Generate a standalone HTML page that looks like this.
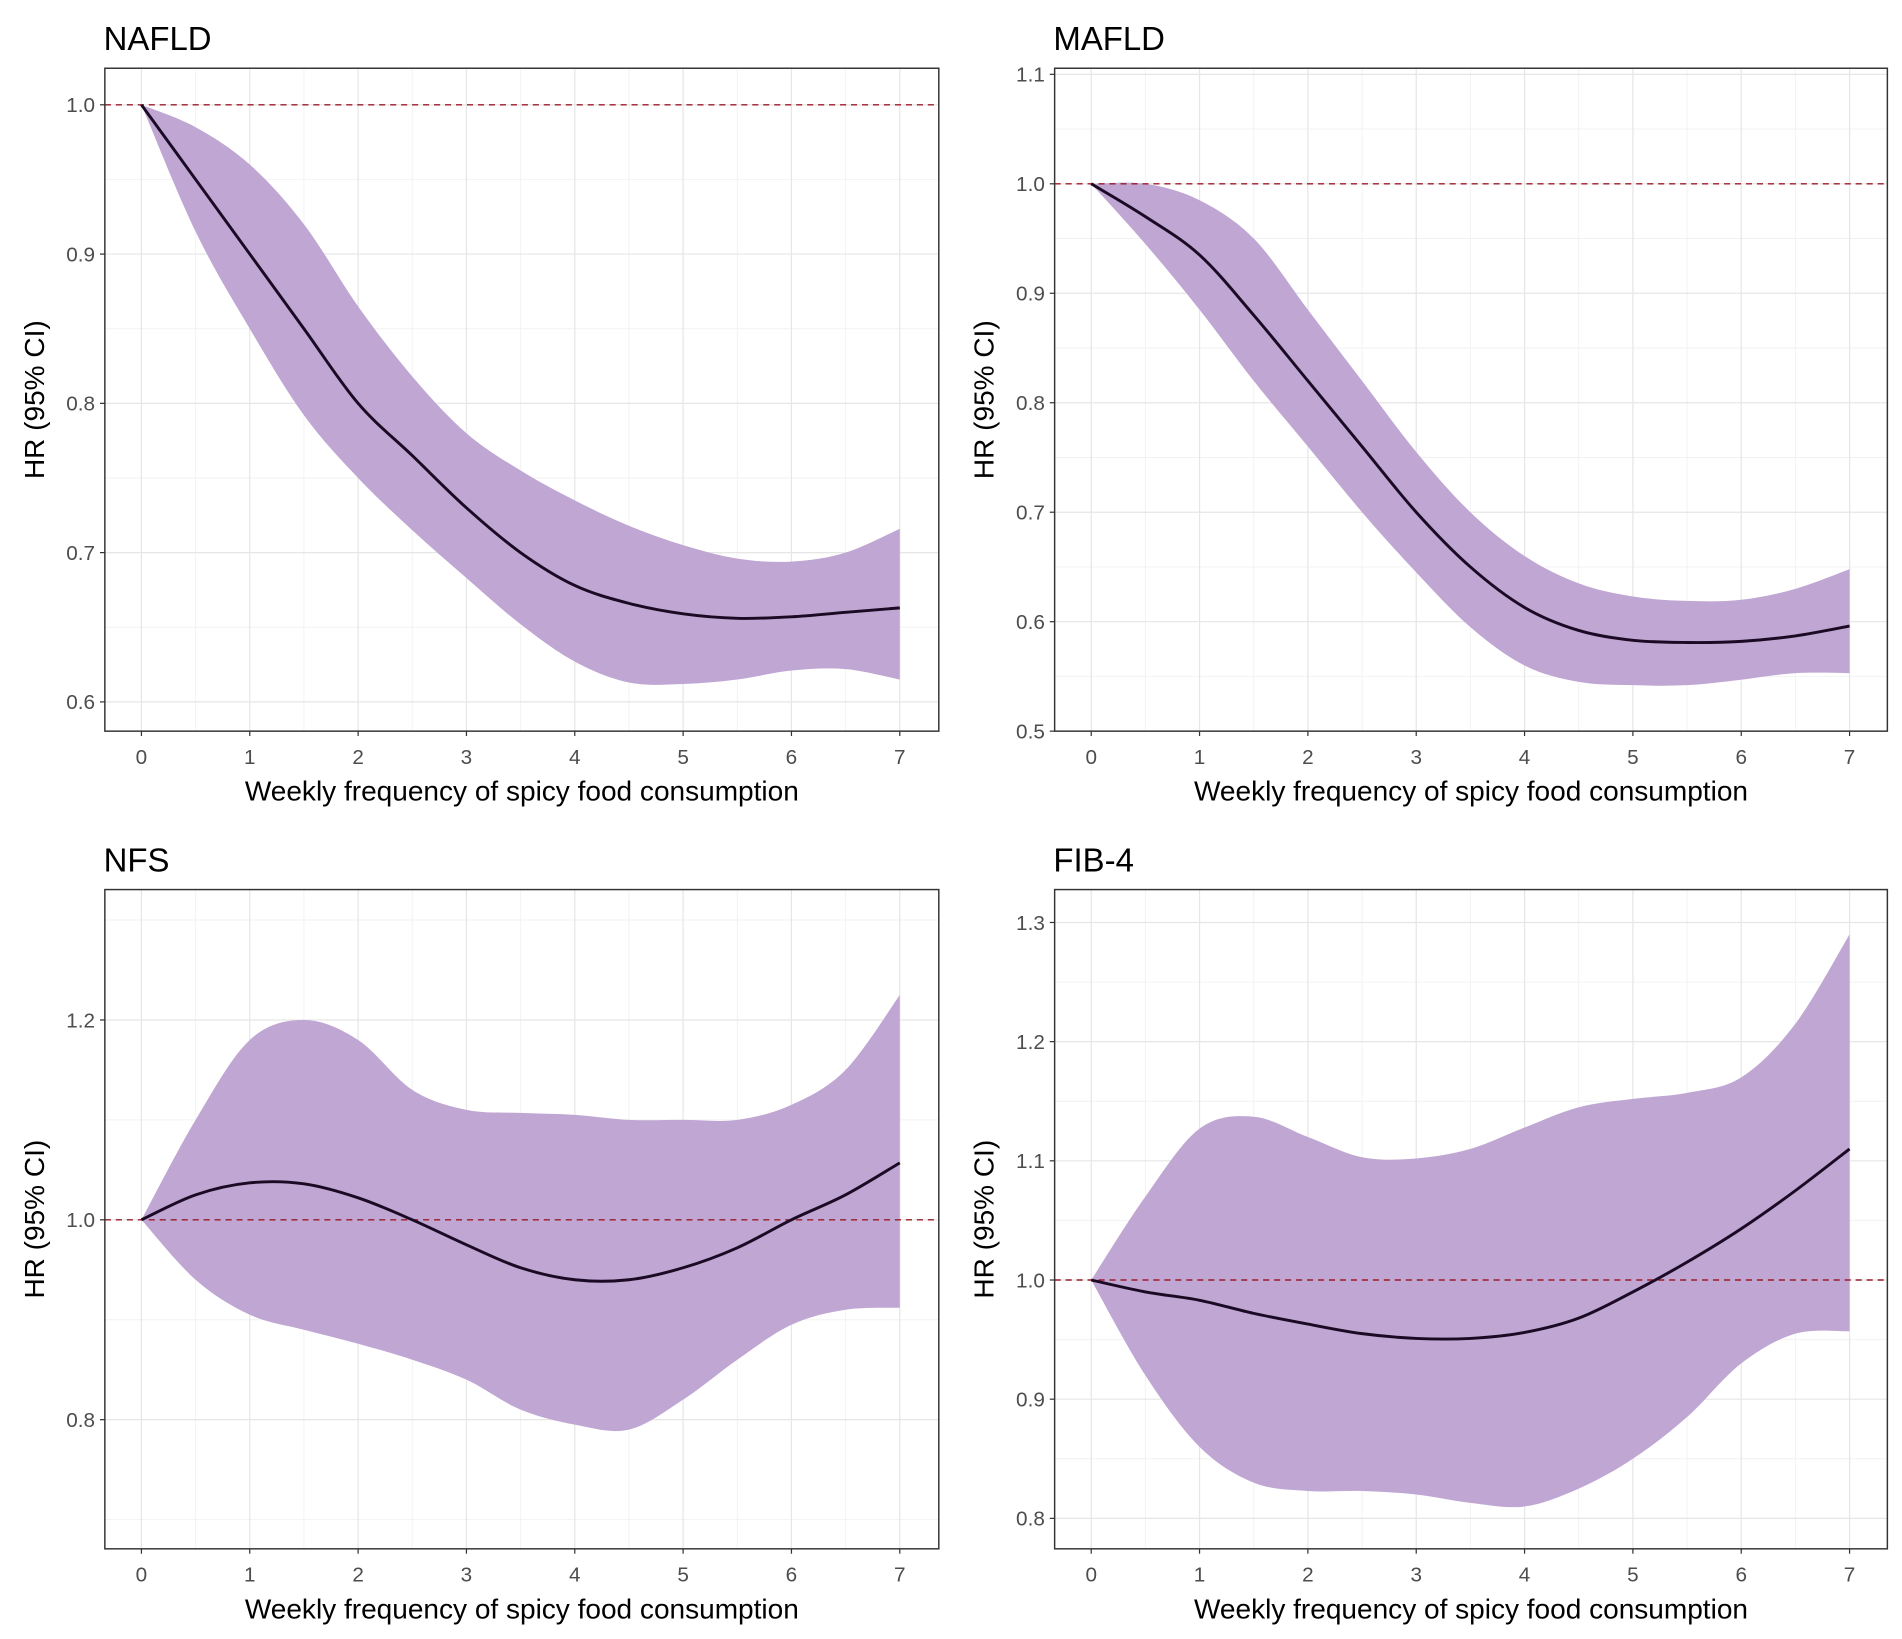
<!DOCTYPE html>
<html><head><meta charset="utf-8"><style>
html,body{margin:0;padding:0;background:#fff;}
svg{display:block;font-family:"Liberation Sans",sans-serif;}
</style></head><body>
<svg id="fig" width="1902" height="1639" viewBox="0 0 1560 1345" preserveAspectRatio="none" xmlns="http://www.w3.org/2000/svg"></svg>
<script>
const xVals = [0,0.5,1,1.5,2,2.5,3,3.5,4,4.5,5,5.5,6,6.5,7];
const xTicks = [0,1,2,3,4,5,6,7];
const naEst = [1.0,0.95,0.90,0.85,0.80,0.765,0.73,0.70,0.678,0.666,0.659,0.656,0.657,0.66,0.663];
const naUp  = [1.0,0.985,0.96,0.92,0.865,0.818,0.78,0.755,0.735,0.718,0.705,0.696,0.694,0.70,0.716];
const naLo  = [1.0,0.915,0.85,0.792,0.75,0.715,0.683,0.652,0.627,0.613,0.612,0.615,0.621,0.622,0.615];
const maEst = [1.0,0.97,0.935,0.88,0.82,0.76,0.70,0.65,0.613,0.592,0.583,0.581,0.582,0.587,0.596];
const maUp  = [1.0,1.0,0.985,0.95,0.885,0.82,0.755,0.70,0.66,0.635,0.623,0.619,0.62,0.63,0.648];
const maLo  = [1.0,0.945,0.885,0.82,0.76,0.70,0.645,0.595,0.56,0.545,0.542,0.542,0.547,0.553,0.553];
const nfEst = [1.0,1.025,1.037,1.036,1.022,1.0,0.975,0.952,0.94,0.94,0.952,0.972,1.0,1.025,1.057];
const nfUp  = [1.0,1.10,1.18,1.20,1.18,1.13,1.11,1.107,1.105,1.10,1.10,1.10,1.115,1.15,1.225];
const nfLo  = [1.0,0.94,0.905,0.89,0.876,0.86,0.84,0.81,0.795,0.79,0.82,0.86,0.895,0.91,0.912];
const fbEst = [1.0,0.99,0.983,0.972,0.963,0.955,0.951,0.951,0.956,0.968,0.99,1.015,1.043,1.075,1.11];
const fbUp  = [1.0,1.07,1.127,1.137,1.12,1.103,1.102,1.11,1.128,1.145,1.152,1.157,1.17,1.215,1.29];
const fbLo  = [1.0,0.92,0.86,0.83,0.823,0.823,0.82,0.813,0.81,0.825,0.85,0.885,0.93,0.955,0.957];
const naTicks = [0.6,0.7,0.8,0.9,1.0];
const maTicks = [0.5,0.6,0.7,0.8,0.9,1.0,1.1];
const nfTicks = [0.8,1.0,1.2];
const fbTicks = [0.8,0.9,1.0,1.1,1.2,1.3];

const NS="http://www.w3.org/2000/svg";
const svg=document.getElementById('fig');
function mk(tag,attrs,parent){const e=document.createElementNS(NS,tag);for(const k in attrs)e.setAttribute(k,attrs[k]);(parent||svg).appendChild(e);return e;}
function smooth(pts){let d=`M${pts[0][0]},${pts[0][1]}`;for(let i=0;i<pts.length-1;i++){const p0=pts[Math.max(i-1,0)],p1=pts[i],p2=pts[i+1],p3=pts[Math.min(i+2,pts.length-1)];const c1=[p1[0]+(p2[0]-p0[0])/6,p1[1]+(p2[1]-p0[1])/6],c2=[p2[0]-(p3[0]-p1[0])/6,p2[1]-(p3[1]-p1[1])/6];d+=` C${c1[0]},${c1[1]} ${c2[0]},${c2[1]} ${p2[0]},${p2[1]}`;}return d;}

function panel(cfg){
  const g=mk('g',{});
  
  
  const {L,R,T,B,x0px,x7px,yA,yApx,yB,yBpx}=cfg;
  const sx=v=>x0px+(x7px-x0px)*v/7;
  const sy=v=>yApx+(yBpx-yApx)*(v-yA)/(yB-yA);
  for(let v=-0.5;v<=7.5;v+=1){const x=sx(v);if(x>L&&x<R){const l=mk('line',{x1:x,x2:x,y1:T,y2:B,stroke:'#f2f2f2','stroke-width':0.8},g);}}
  const step=cfg.ticks[1]-cfg.ticks[0];
  for(let k=-3;k<30;k++){const v=cfg.ticks[0]+step*(k-0.5);const y=sy(v);if(y>T&&y<B){const l=mk('line',{x1:L,x2:R,y1:y,y2:y,stroke:'#f2f2f2','stroke-width':0.8},g);}}
  xTicks.forEach(t=>{const x=sx(t);const l=mk('line',{x1:x,x2:x,y1:T,y2:B,stroke:'#e6e6e6','stroke-width':1},g);
    const tk=mk('line',{x1:x,x2:x,y1:B,y2:B+4,stroke:'#333','stroke-width':1},g);
    const tx=mk('text',{x:x,y:B+27,'text-anchor':'middle','font-size':17,fill:'#4d4d4d'},g);tx.textContent=t;});
  cfg.ticks.forEach(t=>{const y=sy(t);const l=mk('line',{x1:L,x2:R,y1:y,y2:y,stroke:'#e6e6e6','stroke-width':1},g);
    const tk=mk('line',{x1:L-4,x2:L,y1:y,y2:y,stroke:'#333','stroke-width':1},g);
    const tx=mk('text',{x:L-8,y:y+6,'text-anchor':'end','font-size':17,fill:'#4d4d4d'},g);tx.textContent=t.toFixed(1);});
  const up=xVals.map((x,i)=>[sx(x),sy(cfg.up[i])]), lo=xVals.map((x,i)=>[sx(x),sy(cfg.lo[i])]).reverse();
  const bd=smooth(up)+' L'+smooth(lo).slice(1)+' Z';
  const band=mk('path',{d:bd,fill:'#bfa6d3',stroke:'none'},g);
  const ref=mk('line',{x1:L,x2:R,y1:sy(1),y2:sy(1),stroke:'#9b1b2a','stroke-width':1.2,'stroke-dasharray':'5,4'},g);
  const ln=mk('path',{d:smooth(xVals.map((x,i)=>[sx(x),sy(cfg.est[i])])),fill:'none',stroke:'#1a0a24','stroke-width':2.4},g);
  const bx=mk('rect',{x:L,y:T,width:R-L,height:B-T,fill:'none',stroke:'#333','stroke-width':1.2},g);
  const ti=mk('text',{x:L-1,y:T-15,'font-size':27,fill:'#000'},g);ti.textContent=cfg.title;
  const xt=mk('text',{x:(L+R)/2,y:B+57,'text-anchor':'middle','font-size':23,fill:'#000'},g);xt.textContent='Weekly frequency of spicy food consumption';
  const yc=(T+B)/2;const yt=mk('text',{x:L-50,y:yc,'text-anchor':'middle','font-size':23,fill:'#000',transform:`rotate(-90 ${L-50} ${yc})`},g);yt.textContent='HR (95% CI)';
}
panel({name:'nafld',title:'NAFLD',L:86,R:770,T:56,B:600,x0px:116,x7px:738,yA:1.0,yApx:86,yB:0.6,yBpx:576,ticks:naTicks,est:naEst,up:naUp,lo:naLo});
panel({name:'mafld',title:'MAFLD',L:865,R:1548,T:56,B:600,x0px:895,x7px:1517,yA:1.1,yApx:61,yB:0.5,yBpx:600,ticks:maTicks,est:maEst,up:maUp,lo:maLo});
panel({name:'nfs',title:'NFS',L:86,R:770,T:730,B:1271,x0px:116,x7px:738,yA:1.2,yApx:837,yB:0.8,yBpx:1165,ticks:nfTicks,est:nfEst,up:nfUp,lo:nfLo});
panel({name:'fib4',title:'FIB-4',L:865,R:1548,T:730,B:1271,x0px:895,x7px:1517,yA:1.3,yApx:757,yB:0.8,yBpx:1246,ticks:fbTicks,est:fbEst,up:fbUp,lo:fbLo});
</script>
</body></html>
